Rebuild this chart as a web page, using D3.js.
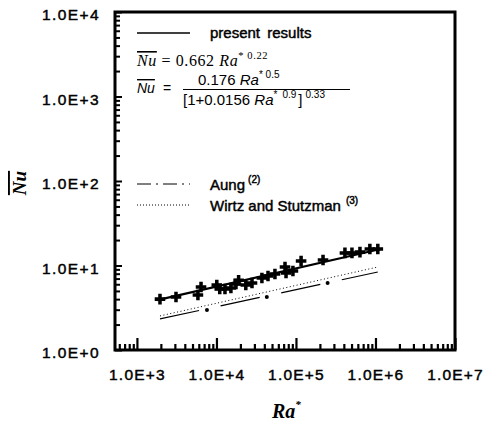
<!DOCTYPE html>
<html>
<head>
<meta charset="utf-8">
<script src="https://cdn.jsdelivr.net/npm/d3@7"></script>
<style>
  body { margin: 0; background: #fff; }
  text { fill: #000; }
  .heavy { stroke: #000; stroke-width: 0.45px; }
</style>
</head>
<body>
<svg id="chart" width="486" height="425"></svg>
<script>
// present results (scatter)
const presentRa = [1950, 3100, 5850, 6400, 10100, 11000, 12800, 15200, 17600, 19000, 23400, 28000,
  37300, 44500, 54400, 72800, 75000, 91600, 116000, 219000, 413000, 506000, 638000, 850000, 1070000]
const presentNu = [4.0, 4.24, 4.48, 5.57, 5.88, 5.27, 5.27, 5.42, 6.04, 6.7, 5.88, 6.21,
  7.11, 7.51, 7.93, 9.6, 8.15, 8.61, 11.3, 11.6, 14.1, 14.1, 14.4, 15.7, 15.7]

// correlation lines
const fitRa = [1800, 1200000]
const fitNu = [3.9, 15.8]
const wirtzRa = [1950, 1070000]
const wirtzNu = [2.53, 9.6]
const aungRa = [1950, 1070000]
const aungNu = [2.33, 8.38]
const aungDotRa = [7600, 43000, 250000]
const aungDotNu = [2.97, 4.24, 6.2]

const xDomain = [530, 1e7]
const yDomain = [1, 1e4]

const svg = d3.select('#chart')
const mLeft = 115, mRight = 455, mTop = 12, mBottom = 350

const x = d3.scaleLog().domain(xDomain).range([mLeft, mRight])
const y = d3.scaleLog().domain(yDomain).range([mBottom, mTop])

const isDecade = v => Math.abs(Math.log10(v) - Math.round(Math.log10(v))) < 1e-6
const fmt = v => '1.0E+' + Math.round(Math.log10(v))
const sans = 'Liberation Sans, Arial, sans-serif'
const serif = 'Liberation Serif, Times New Roman, serif'

// bottom axis, ticks pointing inward
const gx = svg.append('g')
  .attr('transform', `translate(0,${mBottom})`)
  .call(d3.axisBottom(x).tickValues(x.ticks().filter(v => v >= xDomain[0]))
    .tickSizeInner(-5).tickSizeOuter(0).tickPadding(19)
    .tickFormat(v => isDecade(v) ? fmt(v) : ''))
gx.select('.domain').remove()
gx.selectAll('line').attr('stroke', '#000').attr('stroke-width', 2.2)
  .attr('y2', v => isDecade(v) ? -12 : -6)
gx.selectAll('text').attr('font-family', sans).attr('class', 'heavy')
  .attr('font-size', 15.5).attr('letter-spacing', 1.2)

// left axis
const gy = svg.append('g')
  .attr('transform', `translate(${mLeft},0)`)
  .call(d3.axisLeft(y).tickValues(y.ticks())
    .tickSizeInner(-5).tickSizeOuter(0).tickPadding(15)
    .tickFormat(v => isDecade(v) ? fmt(v) : ''))
gy.select('.domain').remove()
gy.selectAll('line').attr('stroke', '#000').attr('stroke-width', 2)
  .attr('x2', v => isDecade(v) ? 7 : 5)
gy.selectAll('text').attr('font-family', sans).attr('class', 'heavy')
  .attr('font-size', 15.5).attr('letter-spacing', 1.4).attr('dy', '0.5em')

// frame
svg.append('rect')
  .attr('x', mLeft).attr('y', mTop)
  .attr('width', mRight - mLeft).attr('height', mBottom - mTop)
  .attr('fill', 'none').attr('stroke', '#000').attr('stroke-width', 3)

const line = d3.line().x(d => x(d[0])).y(d => y(d[1]))

svg.append('path')
  .attr('d', line(d3.zip(wirtzRa, wirtzNu)))
  .attr('fill', 'none').attr('stroke', '#000').attr('stroke-width', 1)
  .attr('stroke-dasharray', '1,2.5')

svg.append('path')
  .attr('d', line(d3.zip(aungRa, aungNu)))
  .attr('fill', 'none').attr('stroke', '#000').attr('stroke-width', 1.2)
  .attr('stroke-dasharray', '40,22')

svg.selectAll('.aungdot').data(d3.zip(aungDotRa, aungDotNu))
  .enter().append('circle')
  .attr('cx', d => x(d[0])).attr('cy', d => y(d[1])).attr('r', 2)

svg.append('path')
  .attr('d', line(d3.zip(fitRa, fitNu)))
  .attr('fill', 'none').attr('stroke', '#000').attr('stroke-width', 2.2)

svg.selectAll('.pt').data(d3.zip(presentRa, presentNu))
  .enter().append('path')
  .attr('transform', d => `translate(${x(d[0])},${y(d[1])})`)
  .attr('d', d3.symbol(d3.symbolCross, 62))
  .attr('fill', '#000')

// legend
svg.append('line').attr('x1', 137).attr('x2', 190).attr('y1', 33).attr('y2', 33)
  .attr('stroke', '#000').attr('stroke-width', 1.6)
svg.append('text').attr('x', 210).attr('y', 38).attr('font-family', sans).attr('class', 'heavy')
  .attr('font-size', 15).attr('word-spacing', 3).text('present results')

// Nu = 0.662 Ra*^0.22
const f1 = svg.append('text').attr('x', 137).attr('y', 66)
  .attr('font-family', serif).attr('font-size', 16).attr('letter-spacing', 0.6)
f1.append('tspan').attr('font-style', 'italic').attr('text-decoration', 'overline').text('Nu')
f1.append('tspan').text(' = 0.662 ')
f1.append('tspan').attr('font-style', 'italic').text('Ra')
f1.append('tspan').attr('font-size', 10.5).attr('dy', -7).text('* 0.22')

// Nu = 0.176 Ra*^0.5 / [1+0.0156 Ra*^0.9]^0.33
const f2 = svg.append('text').attr('x', 137).attr('y', 93)
  .attr('font-family', sans).attr('font-size', 14)
f2.append('tspan').attr('font-style', 'italic').attr('text-decoration', 'overline').text('Nu')
f2.append('tspan').attr('dx', 8).text('=')

const num = svg.append('text').attr('x', 198).attr('y', 85)
  .attr('font-family', sans).attr('font-size', 15)
num.append('tspan').text('0.176 ')
num.append('tspan').attr('font-style', 'italic').text('Ra')
num.append('tspan').attr('font-size', 10).attr('dy', -7).text('* 0.5')

svg.append('line').attr('x1', 183).attr('x2', 350).attr('y1', 89.5).attr('y2', 89.5)
  .attr('stroke', '#000').attr('stroke-width', 1)

const den = svg.append('text').attr('x', 183).attr('y', 105)
  .attr('font-family', sans).attr('font-size', 15)
den.append('tspan').text('[1+0.0156 ')
den.append('tspan').attr('font-style', 'italic').text('Ra')
den.append('tspan').attr('font-size', 10).attr('dy', -7).text('*')
den.append('tspan').attr('font-size', 10).attr('dx', 5).text('0.9')
den.append('tspan').attr('dy', 7).attr('dx', 2).text(']')
den.append('tspan').attr('font-size', 10).attr('dy', -7).attr('dx', 3).text('0.33')

// Aung legend
svg.append('line').attr('x1', 137).attr('x2', 190).attr('y1', 184).attr('y2', 184)
  .attr('stroke', '#000').attr('stroke-width', 1).attr('stroke-dasharray', '14,5,2,5')
const tA = svg.append('text').attr('x', 210).attr('y', 190).attr('font-family', sans)
  .attr('class', 'heavy').attr('font-size', 15)
tA.append('tspan').text('Aung')
tA.append('tspan').attr('font-size', 10).attr('dy', -7).attr('dx', 3).text('(2)')

svg.append('line').attr('x1', 137).attr('x2', 190).attr('y1', 205).attr('y2', 205)
  .attr('stroke', '#000').attr('stroke-width', 1).attr('stroke-dasharray', '1,2')
const tW = svg.append('text').attr('x', 210).attr('y', 211).attr('font-family', sans)
  .attr('class', 'heavy').attr('font-size', 15)
tW.append('tspan').text('Wirtz and Stutzman')
tW.append('tspan').attr('font-size', 10).attr('dy', -7).attr('dx', 5).text('(3)')

// axis titles
svg.append('text')
  .attr('transform', 'translate(26,183) rotate(-90)')
  .attr('text-anchor', 'middle')
  .attr('font-family', serif).attr('font-size', 19)
  .attr('font-weight', 'bold').attr('font-style', 'italic')
  .attr('text-decoration', 'overline')
  .text('Nu')

const xt = svg.append('text').attr('x', 272).attr('y', 418)
  .attr('font-family', serif).attr('font-size', 20)
  .attr('font-weight', 'bold').attr('font-style', 'italic')
xt.append('tspan').text('Ra')
xt.append('tspan').attr('font-size', 11).attr('dy', -10).text('*')
</script>
</body>
</html>
